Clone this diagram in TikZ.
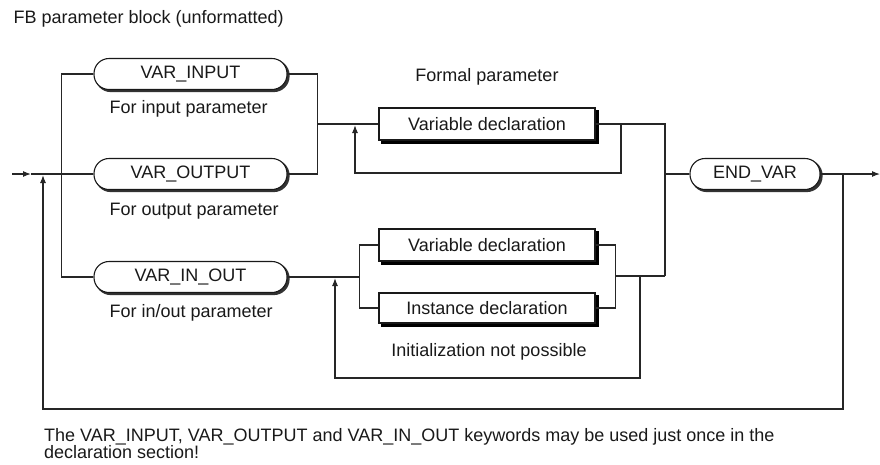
\documentclass[tikz,border=0pt]{standalone}
\usepackage{fontspec}
\setmainfont{Liberation Sans}
\usetikzlibrary{arrows.meta}

\begin{document}
\begin{tikzpicture}[x=1pt, y=-1pt,
  every node/.style={font=\fontsize{18}{17}\selectfont, text=black!90},
  line/.style={line width=1.1pt, draw=black!85},
  tip/.style={-{Latex[length=8pt, width=6pt]}},
  pill/.style={draw=black!90, line width=1.1pt, fill=white, rounded corners=15pt,
    minimum height=31pt, inner sep=0pt,
    preaction={draw=black!80, line width=1.6pt, fill=black!80,
      transform canvas={xshift=1.8pt, yshift=-1.8pt}}},
  declbox/.style={draw=black!90, line width=1.1pt, fill=white,
    minimum width=216pt, minimum height=32pt, inner sep=0pt,
    preaction={draw=black, fill=black,
      transform canvas={xshift=3pt, yshift=-3pt}}}]

  \useasboundingbox (0,0) rectangle (880,464);

  %% Title
  \node[anchor=west] (title) at (10,19) {FB parameter block (unformatted)};

  %% Keyword pills
  \node[pill, minimum width=193pt] (input)  at (190.5,74)  {VAR\_INPUT};
  \node[pill, minimum width=193pt] (output) at (190.5,174) {VAR\_OUTPUT};
  \node[pill, minimum width=193pt] (inout)  at (190.5,277) {VAR\_IN\_OUT};
  \node[pill, minimum width=130pt] (endvar) at (755,174)   {END\_VAR};

  \node[anchor=west] (inlbl)    at (106,109) {For input parameter};
  \node[anchor=west] (outlbl)   at (106,211) {For output parameter};
  \node[anchor=west] (inoutlbl) at (106,313) {For in/out parameter};

  %% Declaration boxes
  \node[declbox] (decl)     at (487,124) {Variable declaration};
  \node[declbox] (vardecl)  at (487,245) {Variable declaration};
  \node[declbox, minimum height=30pt] (instdecl) at (487,308) {Instance declaration};

  \node (formal) at (487,77)  {Formal parameter};
  \node (noinit) at (489,352) {Initialization not possible};

  %% Junction points
  \coordinate (start)    at (12,174);
  \coordinate (entry)    at (31,174);
  \coordinate (loopin)   at (43,175);
  \coordinate (jdecl)    at (317,124);
  \coordinate (declret)  at (355,125);
  \coordinate (declback) at (621,124);
  \coordinate (railtop)  at (665,124);
  \coordinate (railbot)  at (665,276);
  \coordinate (split)    at (360,277);
  \coordinate (merge)    at (615,276);
  \coordinate (ioret)    at (335,278);
  \coordinate (ioback)   at (640,276);
  \coordinate (loopout)  at (843,174);
  \coordinate (exit)     at (880,174);

  %% Entry and left rail
  \draw[line, tip] (start) -- (entry);
  \draw[line] (entry) -- (output.west);
  \draw[line] (input.west) -- ++(-32,0) |- (inout.west);

  % VAR_INPUT / VAR_OUTPUT join
  \draw[line] (input.east) -- ++(30,0) |- (output.east);
  \draw[line] (jdecl) -- (decl.west);

  % formal parameter loop
  \draw[line] (decl.east) -- (railtop) -- (railbot);
  \draw[line, tip] (declback) -- ++(0,49) -| (declret);

  % VAR_IN_OUT branch
  \draw[line] (inout.east) -- (split);
  \draw[line] (vardecl.west) -- ++(-19,0) |- (instdecl.west);
  \draw[line] (vardecl.east) -- ++(20,0) |- (instdecl.east);
  \draw[line] (merge) -- (railbot);
  \draw[line, tip] (ioback) -- ++(0,102) -| (ioret);

  % END_VAR and outer loop
  \draw[line] (railtop |- endvar) -- (endvar.west);
  \draw[line, tip] (endvar.east) -- (exit);
  \draw[line, tip] (loopout) -- ++(0,235) -| (loopin);

  %% Note
  \node[anchor=north west, align=left, inner sep=0pt] (note) at (44,428)
    {The VAR\_INPUT, VAR\_OUTPUT and VAR\_IN\_OUT keywords may be used just once in the\\
     declaration section!};
\end{tikzpicture}
\end{document}
